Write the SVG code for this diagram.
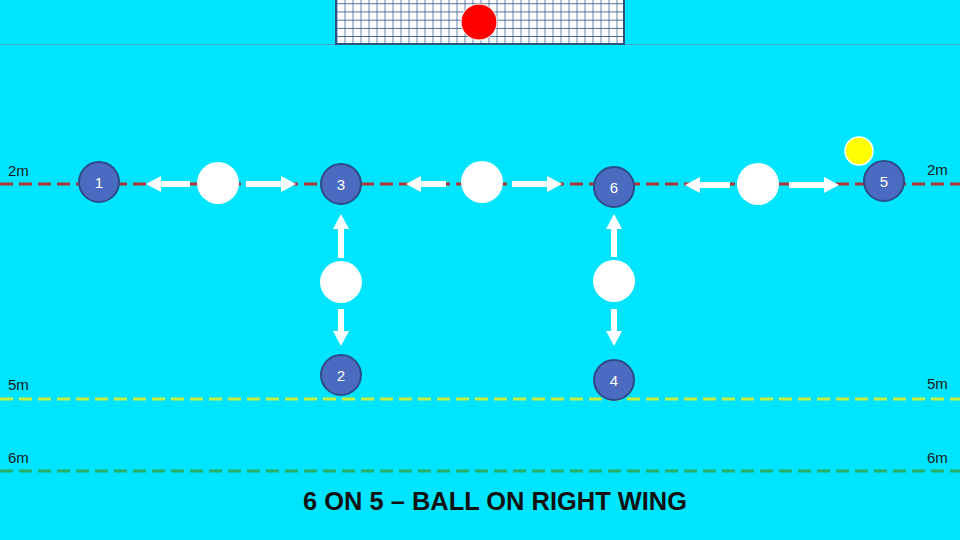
<svg xmlns="http://www.w3.org/2000/svg" width="960" height="540" viewBox="0 0 960 540">
<style>
.lbl{font-family:"Liberation Sans","Open Sans",sans-serif;font-size:15px;fill:#1a1a1a}
.num{font-family:"Liberation Sans","Open Sans",sans-serif;font-size:15px;fill:#ffffff;text-anchor:middle}
.pl{fill:#4a6bbf;stroke:#2e4a8a;stroke-width:2}
.dfn{fill:#ffffff}
.arr{fill:#ffffff}
</style>
<defs>
<pattern id="net" x="336.5" y="3.3" width="8" height="8.2" patternUnits="userSpaceOnUse">
<rect width="8" height="8.2" fill="#ffffff"/>
<path d="M0 0 H8 M0 0 V8.2" stroke="#3d6594" stroke-width="1.6" fill="none"/>
</pattern>
</defs>
<rect width="960" height="540" fill="#00e5ff"/>
<line x1="0" y1="44.5" x2="960" y2="44.5" stroke="#3aa6c8" stroke-width="1"/>
<g id="goal">
<rect x="336" y="-2" width="288" height="46" fill="url(#net)" stroke="#2e5282" stroke-width="2"/>
<circle cx="479" cy="22" r="18" fill="#ff0000" stroke="#ffffff" stroke-width="1"/>
</g>
<g id="lines">
<line x1="0" y1="184" x2="960" y2="184" stroke="#b03535" stroke-width="3" stroke-dasharray="13 6"/>
<line x1="0" y1="399" x2="960" y2="399" stroke="#c6f040" stroke-width="3" stroke-dasharray="13 6"/>
<line x1="0" y1="471" x2="960" y2="471" stroke="#27b06a" stroke-width="3" stroke-dasharray="13 6"/>
</g>
<g id="labels">
<text class="lbl" x="8" y="176">2m</text>
<text class="lbl" x="927" y="175">2m</text>
<text class="lbl" x="8" y="390">5m</text>
<text class="lbl" x="927" y="389">5m</text>
<text class="lbl" x="8" y="463">6m</text>
<text class="lbl" x="927" y="463">6m</text>
</g>
<g id="connectors">
<polygon class="arr" points="190,181 161,181 161,176 146,184 161,192 161,187 190,187"/>
<polygon class="arr" points="246,181 281,181 281,176 296,184 281,192 281,187 246,187"/>
<polygon class="arr" points="446,181 421,181 421,176 406,184 421,192 421,187 446,187"/>
<polygon class="arr" points="512,181 547,181 547,176 562,184 547,192 547,187 512,187"/>
<polygon class="arr" points="730,182 700,182 700,177 685,185 700,193 700,188 730,188"/>
<polygon class="arr" points="789,182 824,182 824,177 839,185 824,193 824,188 789,188"/>
<polygon class="arr" points="338,258 338,229 333,229 341,214 349,229 344,229 344,258"/>
<polygon class="arr" points="338,309 338,331 333,331 341,346 349,331 344,331 344,309"/>
<polygon class="arr" points="611,257 611,229 606,229 614,214 622,229 617,229 617,257"/>
<polygon class="arr" points="611,309 611,331 606,331 614,346 622,331 617,331 617,309"/>
</g>
<g id="d1"><circle class="dfn" cx="218" cy="183" r="21"/></g>
<g id="d2"><circle class="dfn" cx="482" cy="182" r="21"/></g>
<g id="d3"><circle class="dfn" cx="758" cy="184" r="21"/></g>
<g id="d4"><circle class="dfn" cx="341" cy="282" r="21"/></g>
<g id="d5"><circle class="dfn" cx="614" cy="281" r="21"/></g>
<g id="p1"><circle class="pl" cx="99" cy="182" r="20"/><text class="num" x="99" y="188">1</text></g>
<g id="p3"><circle class="pl" cx="341" cy="184" r="20"/><text class="num" x="341" y="190">3</text></g>
<g id="p6"><circle class="pl" cx="614" cy="187" r="20"/><text class="num" x="614" y="193">6</text></g>
<g id="p5"><circle class="pl" cx="884" cy="181" r="20"/><text class="num" x="884" y="187">5</text></g>
<g id="p2"><circle class="pl" cx="341" cy="375" r="20"/><text class="num" x="341" y="381">2</text></g>
<g id="p4"><circle class="pl" cx="614" cy="380" r="20"/><text class="num" x="614" y="386">4</text></g>
<g id="ball"><circle cx="859" cy="151" r="14" fill="#ffff00" stroke="#ffffff" stroke-width="1.5"/></g>
<text x="495" y="510" font-family="'Liberation Sans','Open Sans',sans-serif" font-size="25" font-weight="bold" fill="#111111" text-anchor="middle" textLength="384" lengthAdjust="spacingAndGlyphs">6 ON 5 – BALL ON RIGHT WING</text>
</svg>
